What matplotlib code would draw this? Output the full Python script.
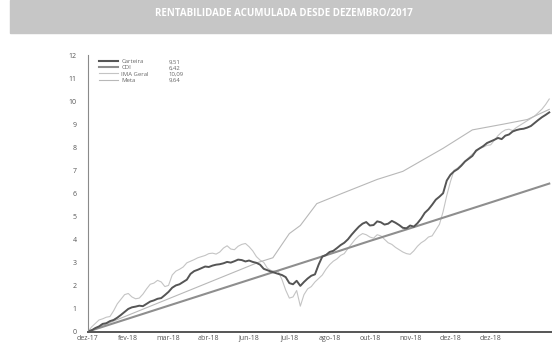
import matplotlib
matplotlib.use("Agg")
import matplotlib.pyplot as plt
from matplotlib.patches import Rectangle
from matplotlib.lines import Line2D

plt.rcParams['font.family'] = ['Open Sans', 'DejaVu Sans']

# trading-day index of each sample (every 2nd session since dez-17)
days = list(range(0, 253, 2))

carteira = [0.00, 0.05, 0.15, 0.22, 0.33, 0.36, 0.45, 0.50, 0.60, 0.72,
            0.85, 0.98, 1.05, 1.08, 1.12, 1.10, 1.20, 1.30, 1.35, 1.42,
            1.45, 1.58, 1.72, 1.90, 2.00, 2.05, 2.15, 2.25, 2.50, 2.62,
            2.68, 2.75, 2.82, 2.80, 2.86, 2.90, 2.92, 2.96, 3.02, 2.99,
            3.05, 3.12, 3.10, 3.04, 3.08, 3.02, 2.98, 2.90, 2.72, 2.66,
            2.60, 2.55, 2.50, 2.45, 2.36, 2.10, 2.05, 2.20, 1.98, 2.15,
            2.30, 2.42, 2.48, 2.90, 3.25, 3.32, 3.45, 3.50, 3.62, 3.75,
            3.85, 4.00, 4.20, 4.38, 4.55, 4.68, 4.75, 4.60, 4.62, 4.78,
            4.74, 4.64, 4.68, 4.80, 4.72, 4.62, 4.50, 4.48, 4.60, 4.55,
            4.70, 4.90, 5.15, 5.30, 5.50, 5.72, 5.85, 6.00, 6.55, 6.80,
            6.95, 7.05, 7.20, 7.38, 7.50, 7.62, 7.85, 7.95, 8.05, 8.18,
            8.25, 8.32, 8.40, 8.35, 8.50, 8.55, 8.68, 8.74, 8.78, 8.80,
            8.85, 8.92, 9.05, 9.18, 9.30, 9.40, 9.51]

ima_geral = [0.00, 0.20, 0.35, 0.50, 0.55, 0.62, 0.65, 0.90, 1.20, 1.40,
             1.60, 1.65, 1.50, 1.42, 1.45, 1.62, 1.85, 2.05, 2.10, 2.22,
             2.15, 1.95, 2.00, 2.45, 2.62, 2.70, 2.80, 2.98, 3.05, 3.12,
             3.20, 3.25, 3.30, 3.38, 3.40, 3.36, 3.45, 3.62, 3.72, 3.58,
             3.55, 3.70, 3.78, 3.82, 3.68, 3.50, 3.25, 3.10, 3.00, 2.75,
             2.65, 2.62, 2.60, 2.25, 1.80, 1.45, 1.50, 1.78, 1.10, 1.60,
             1.85, 1.95, 2.15, 2.30, 2.45, 2.70, 2.90, 3.05, 3.15, 3.30,
             3.38, 3.60, 3.80, 4.00, 4.15, 4.25, 4.20, 4.10, 4.05, 4.20,
             4.15, 4.00, 3.85, 3.78, 3.65, 3.55, 3.45, 3.38, 3.35, 3.50,
             3.70, 3.85, 3.95, 4.10, 4.15, 4.40, 4.65, 5.20, 5.90, 6.50,
             7.00, 7.10, 7.25, 7.40, 7.55, 7.70, 7.80, 7.95, 8.00, 8.08,
             8.10, 8.30, 8.50, 8.65, 8.75, 8.78, 8.72, 8.85, 8.95, 9.05,
             9.15, 9.25, 9.35, 9.50, 9.65, 9.85, 10.09]

cdi_days = [0, 22, 44, 66, 88, 110, 132, 154, 176, 198, 220, 252]
cdi = [0.00, 0.56, 1.12, 1.68, 2.24, 2.80, 3.36, 3.93, 4.48, 5.04, 5.60, 6.42]

meta_days = [0, 93, 101, 110, 116, 125, 139, 158, 172, 194, 210, 227, 240, 252]
meta = [0.00, 3.00, 3.20, 4.25, 4.60, 5.55, 6.00, 6.60, 6.95, 7.95, 8.75, 9.00, 9.20, 9.64]

tick_days = [0, 22, 44, 66, 88, 110, 132, 154, 176, 198, 220]
tick_labels = ['dez-17', 'fev-18', 'mar-18', 'abr-18', 'jun-18', 'jul-18',
               'ago-18', 'out-18', 'nov-18', 'dez-18', 'dez-18']

names = ['Carteira', 'CDI', 'IMA Geral', 'Meta']
final_values = ['9,51', '6,42', '10,09', '9,64']

fig = plt.figure(figsize=(5.52, 3.52), dpi=100)

# grey title band
fig.patches.append(Rectangle((10 / 552, 1 - 33 / 352), 1, 33 / 352,
                             transform=fig.transFigure, color='#c6c6c6', zorder=0))
fig.text(0.515, 1 - 14 / 352, 'RENTABILIDADE ACUMULADA DESDE DEZEMBRO/2017',
         ha='center', va='center', color='white', fontsize=7, fontweight='bold')

ax = fig.add_axes([88 / 552, 20.5 / 352, 464 / 552, 276.5 / 352])

ax.plot(days, ima_geral, color='#c4c4c4', lw=0.8)
ax.plot(meta_days, meta, color='#b8b8b8', lw=0.8)
ax.plot(cdi_days, cdi, color='#8e8e8e', lw=1.5)
ax.plot(days, carteira, color='#555555', lw=1.4)

ax.set_xlim(0, 253.5)
ax.set_ylim(0, 12)
ax.set_yticks(range(13))
ax.set_xticks(tick_days)
ax.set_xticklabels(tick_labels)
ax.tick_params(length=0, labelsize=5, colors='#555555')
ax.tick_params(axis='y', pad=8)
ax.tick_params(axis='x', pad=2.5)

for side in ['top', 'right']:
    ax.spines[side].set_visible(False)
ax.spines['left'].set_color('#8a8a8a')
ax.spines['left'].set_linewidth(0.8)
ax.spines['bottom'].set_color('#555555')
ax.spines['bottom'].set_linewidth(1.4)

# legend: names with line samples, plus a second column of final values
handles = [Line2D([], [], color='#555555', lw=1.5),
           Line2D([], [], color='#8e8e8e', lw=1.5),
           Line2D([], [], color='#c4c4c4', lw=0.8),
           Line2D([], [], color='#b8b8b8', lw=0.8)]
leg1 = ax.legend(handles, names, loc='upper left', bbox_to_anchor=(0.015, 1.0),
                 frameon=False, fontsize=4.3, labelspacing=0.15, handlelength=3.2,
                 handletextpad=0.5, borderpad=0.2, labelcolor='#666666')
ax.add_artist(leg1)
blank = [Line2D([], [], lw=0) for _ in names]
ax.legend(blank, final_values, loc='upper left', bbox_to_anchor=(0.165, 1.0),
          frameon=False, fontsize=4.3, labelspacing=0.15, handlelength=0,
          handletextpad=0, borderpad=0.2, labelcolor='#666666')

fig.savefig('out.png', dpi=100)
